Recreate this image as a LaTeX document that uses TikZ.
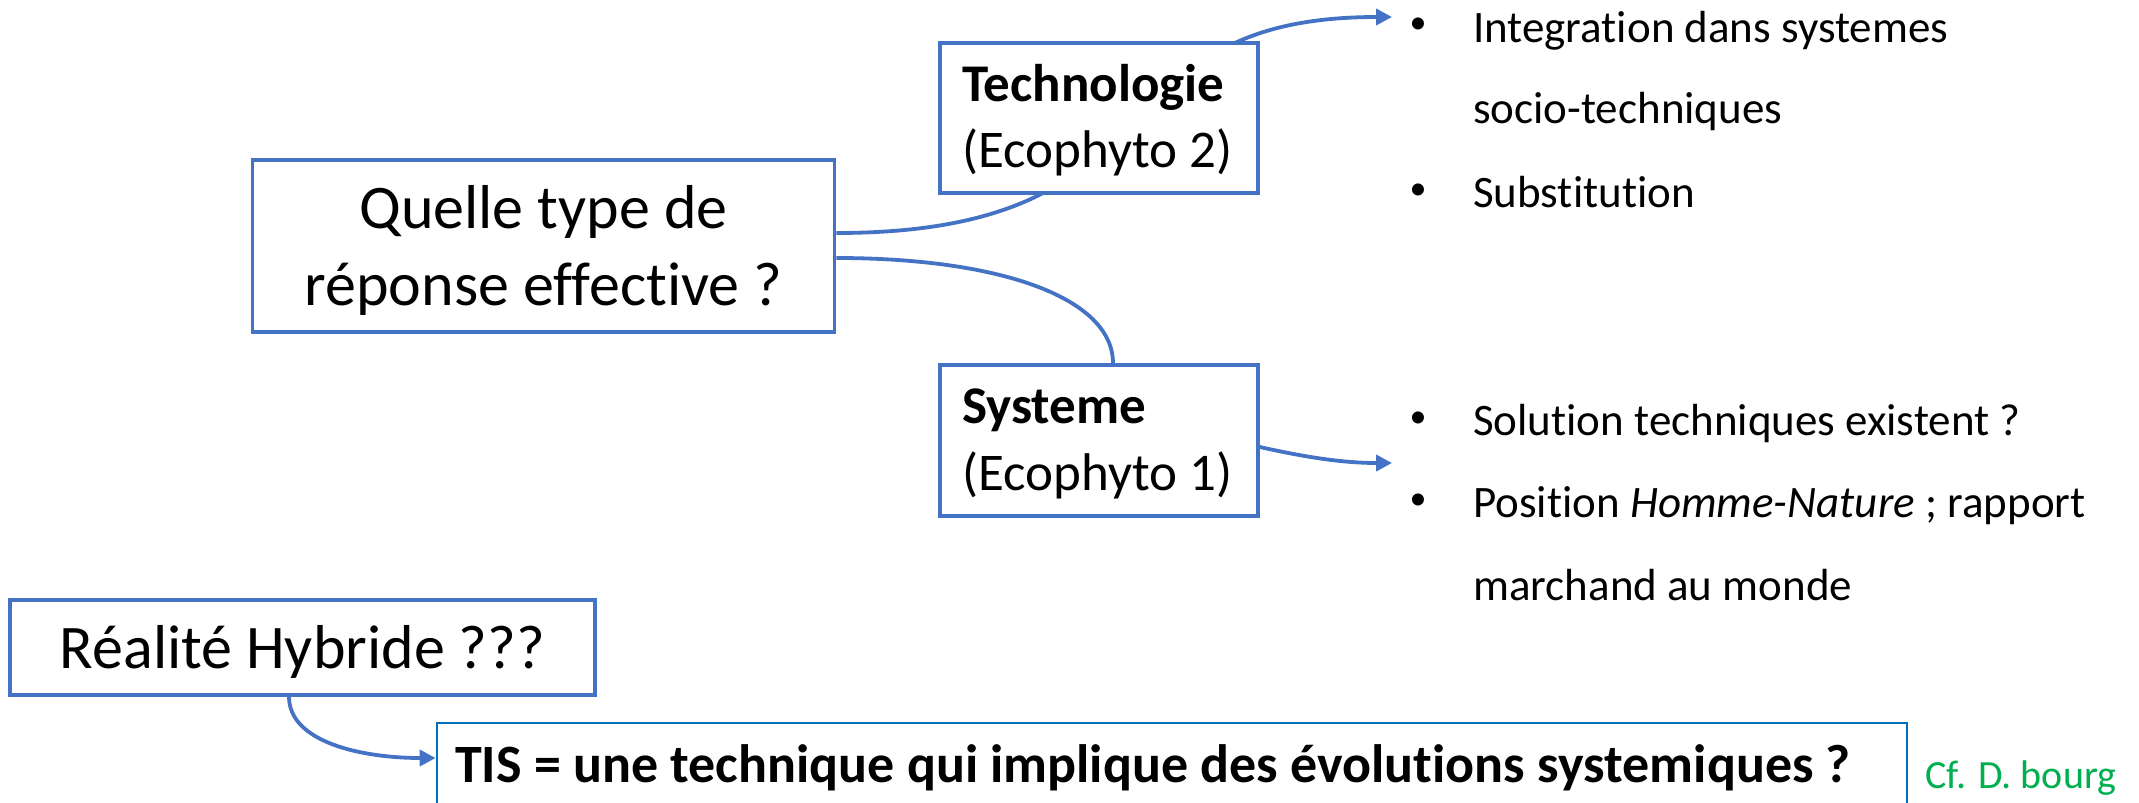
\documentclass[tikz,border=0pt]{standalone}
\usepackage{fontspec}
\setmainfont{Carlito}[Ligatures={NoCommon,NoContextual}]
\usetikzlibrary{arrows.meta}
\definecolor{boxblue}{HTML}{4472C4}
\definecolor{tisblue}{HTML}{0070C0}
\definecolor{cfgreen}{HTML}{00B050}
\pgfdeclarelayer{background}
\pgfsetlayers{background,main}
\begin{document}
\begin{tikzpicture}[x=1pt,y=-1pt,
  box/.style={draw=boxblue, line width=3.5pt, fill=white, inner sep=0pt, rectangle},
  conn/.style={draw=boxblue, line width=3.8pt},
  arr/.style={conn, -{Triangle[length=16pt,width=16pt]}},
  big/.style={font=\fontsize{62}{74}\selectfont, anchor=base, inner sep=0pt},
  mid/.style={font=\fontsize{53}{64}\selectfont, anchor=base west, inner sep=0pt},
  midb/.style={font=\fontsize{53}{64}\selectfont\bfseries, anchor=base west, inner sep=0pt},
  item/.style={font=\fontsize{45}{54}\selectfont, anchor=base west, inner sep=0pt},
  dot/.style={font=\fontsize{34}{40}\selectfont, anchor=center, inner sep=0pt},
]
\useasboundingbox (0,0) rectangle (2139,803);
\clip (0,0) rectangle (2139,803);

% boxes
\node[box, minimum width=582pt, minimum height=172pt] (q) at (543.5,246) {};
\node[big] (q1) at (543.5,228) {Quelle type de};
\node[big] (q2) at (543.5,305) {réponse effective ?};

\node[box, minimum width=318pt, minimum height=150pt] (t) at (1099,118) {};
\node[midb] (t1) at (962,101) {Technologie};
\node[mid] (t2) at (962,167) {(Ecophyto 2)};

\node[box, minimum width=318pt, minimum height=151pt] (s) at (1099,440.5) {};
\node[midb] (s1) at (962,423) {Systeme};
\node[mid] (s2) at (962,490) {(Ecophyto 1)};

\node[box, minimum width=585pt, minimum height=95pt] (r) at (302.5,647.5) {};
\node[big] (r1) at (302.5,668) {Réalité Hybride ???};

\node[draw=tisblue, line width=2.7pt, fill=white, inner sep=0pt, minimum width=1470pt, minimum height=130pt] (tis) at (1172,788) {};
\node[anchor=base west, inner sep=0pt, font=\fontsize{54}{64}\selectfont\bfseries] (tis1) at (455,782) {TIS = une technique qui implique des évolutions systemiques ?};
\node[anchor=base west, inner sep=0pt, text=cfgreen, font=\fontsize{40}{48}\selectfont] (cf) at (1925,788) {Cf. D. bourg};

% bullet lists
\node[dot] (b1) at (1418,26) {•};
\node[item] (l1) at (1473,42) {Integration dans systemes};
\node[item] (l2) at (1473,123) {socio-techniques};
\node[dot] (b3) at (1418,192) {•};
\node[item] (l3) at (1473,207) {Substitution};
\node[dot] (b4) at (1418,420) {•};
\node[item] (l4) at (1473,435) {Solution techniques existent ?};
\node[dot] (b5) at (1418,502) {•};
\node[item] (l5) at (1473,517) {Position \textit{Homme-Nature} ; rapport};
\node[item] (l6) at (1473,600) {marchand au monde};

\coordinate (a1) at (1392,17);
\coordinate (a2) at (1392,463);

\begin{pgfonlayer}{background}
\fill[white] (0,0) rectangle (2139,803);
\draw[arr] ([yshift=13pt]q.east) .. controls +(357,0) and +(-307,0) .. (a1);
\draw[conn] ([yshift=-12pt]q.east) .. controls +(165,0) and +(0,-65) .. ([xshift=14pt]s.north);
\draw[arr] ([yshift=-6.5pt]s.east) .. controls +(45,10) and +(-50,0) .. (a2);
\draw[arr] ([xshift=-13.5pt]r.south) .. controls +(0,45) and +(-75,0) .. ([yshift=30pt]tis.west);
\end{pgfonlayer}
\end{tikzpicture}
\end{document}
